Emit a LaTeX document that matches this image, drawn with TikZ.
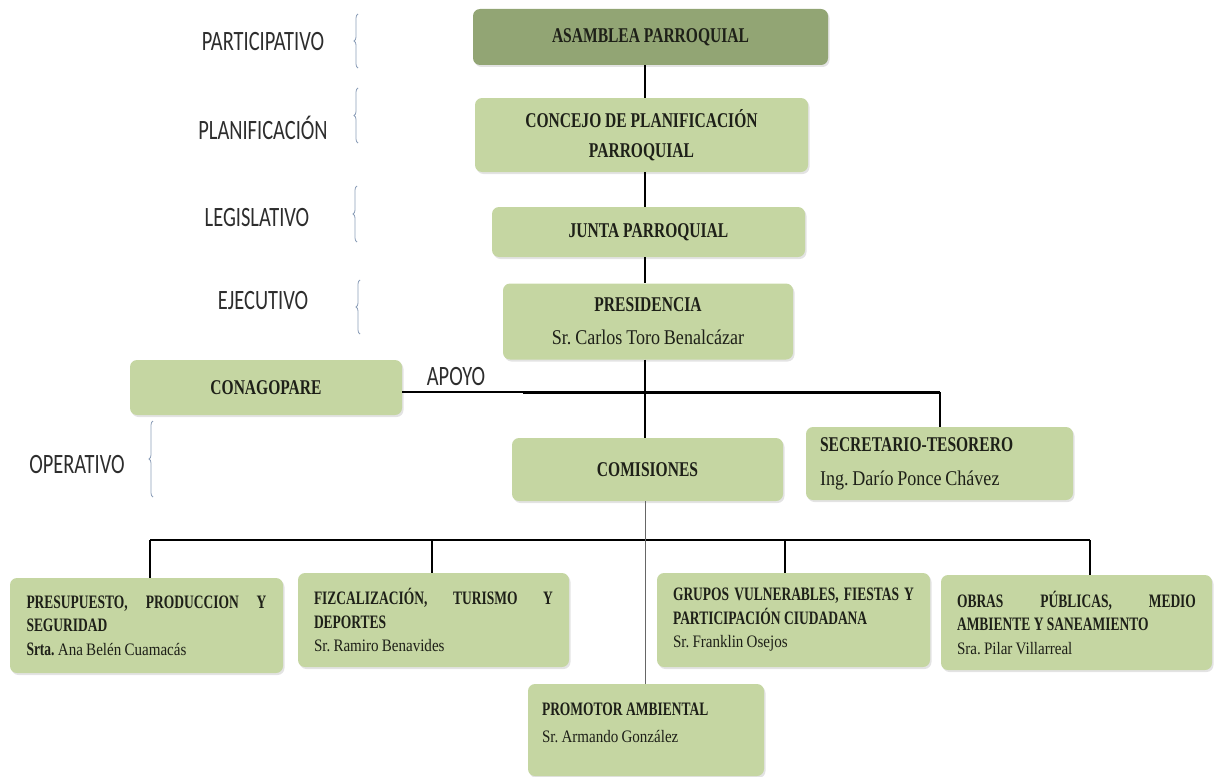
\documentclass[tikz,border=0pt]{standalone}
\usepackage{fontspec}
\setmainfont{Liberation Serif}
\newfontfamily\hbf{Liberation Serif}[FakeStretch=0.74]
\newfontfamily\hbs{Liberation Serif}[FakeStretch=0.71]
\newfontfamily\hrf{Liberation Serif}[FakeStretch=0.86, WordSpace=0.85]
\newfontfamily\lbf{Carlito}[FakeStretch=0.73]
\usetikzlibrary{decorations.pathreplacing,shadows}
\definecolor{boxg}{RGB}{197,214,162}
\definecolor{boxd}{RGB}{146,165,116}
\definecolor{brk}{RGB}{140,158,184}
\definecolor{txt}{RGB}{30,32,24}
\definecolor{lbl}{RGB}{45,45,45}
\newcommand{\nmx}[1]{{\hrf\mdseries #1}}
\newcommand{\nmb}[1]{{\hrf\mdseries\fontsize{17.5}{23.5}\selectfont #1}}
\newcommand{\nsk}{\spaceskip=0pt\xspaceskip=0pt\relax}
\frenchspacing
\begin{document}
\begin{tikzpicture}[x=1pt,y=-1pt,
  box/.style={fill=boxg, rounded corners=7pt, inner sep=0pt, text=txt,
     drop shadow={opacity=0.22, shadow xshift=1.5pt, shadow yshift=-2pt}},
  topbox/.style={box, align=center, font=\frenchspacing\hbf\bfseries\fontsize{21}{29}\selectfont},
  botbox/.style={box, align=left, font=\frenchspacing\hbs\bfseries\fontsize{19}{23.5}\selectfont},
  lev/.style={text=lbl, font=\lbf\fontsize{28}{30}\selectfont, inner sep=0pt},
  lbrace/.style={draw=brk, line width=0.8pt, decorate, decoration={brace, amplitude=4pt}},
  trunk/.style={line width=2.4pt},
  thinline/.style={line width=1.2pt},
  busline/.style={line width=1.8pt},
  hairline/.style={line width=0.8pt, draw=black!60}
]
\useasboundingbox (0,0) rectangle (1220,776);

% level labels
\node[lev] (lpart) at (263,42) {PARTICIPATIVO};
\node[lev] (lplan) at (263,128) {PLANIFICACIÓN};
\node[lev] (lleg)  at (257,218) {LEGISLATIVO};
\node[lev] (lejec) at (263,301) {EJECUTIVO};
\node[lev] (lop)   at (77,465) {OPERATIVO};
\node[lev] (apoyo) at (456,377) {APOYO};

\coordinate (b1a) at (358,68);  \coordinate (b1b) at (358,14);
\coordinate (b2a) at (358,143); \coordinate (b2b) at (358,88);
\coordinate (b3a) at (357,242); \coordinate (b3b) at (357,186);
\coordinate (b4a) at (360,334); \coordinate (b4b) at (360,280);
\coordinate (b5a) at (153,497); \coordinate (b5b) at (153,421);
\draw[lbrace] (b1a) -- (b1b);
\draw[lbrace] (b2a) -- (b2b);
\draw[lbrace] (b3a) -- (b3b);
\draw[lbrace] (b4a) -- (b4b);
\draw[lbrace] (b5a) -- (b5b);

% main boxes
\node[topbox, fill=boxd, minimum width=355pt, minimum height=56pt] (asamblea) at (650.5,37) {ASAMBLEA PARROQUIAL};
\node[topbox, minimum width=333pt, minimum height=74pt] (concejo) at (641.5,135) {CONCEJO DE PLANIFICACIÓN\\[1pt]PARROQUIAL};
\node[topbox, minimum width=313pt, minimum height=50pt] (junta) at (648.5,232) {JUNTA PARROQUIAL};
\node[topbox, minimum width=290pt, minimum height=76pt] (presid) at (648,321.5) {PRESIDENCIA\\[4pt]\nmx{Sr. Carlos Toro Benalcázar}};
\node[topbox, minimum width=272pt, minimum height=55pt] (conago) at (266,387.5) {CONAGOPARE};
\node[topbox, minimum width=271pt, minimum height=63pt] (comis) at (647.5,469.5) {COMISIONES};
\node[topbox, align=left, text width=239pt, minimum width=267pt, minimum height=73pt] (secre) at (939.5,463.5)
  {\nsk SECRETARIO-TESORERO\\[5pt]\nmx{Ing. Darío Ponce Chávez}};

% bottom boxes
\node[botbox, text width=240pt, minimum width=273pt, minimum height=95pt] (presu) at (146.5,625.5)
  {\nsk\makebox[\linewidth][s]{PRESUPUESTO, PRODUCCION Y}\\SEGURIDAD\\Srta. \nmb{Ana Belén Cuamacás}};
\node[botbox, text width=239pt, minimum width=271pt, minimum height=94pt] (fizca) at (433.5,620)
  {\nsk\makebox[\linewidth][s]{FIZCALIZACIÓN, TURISMO Y}\\DEPORTES\\\nmb{Sr. Ramiro Benavides}};
\node[botbox, text width=241pt, minimum width=273pt, minimum height=94pt] (grupos) at (793.5,620)
  {\nsk\makebox[\linewidth][s]{GRUPOS VULNERABLES, FIESTAS Y}\\PARTICIPACIÓN CIUDADANA\\\nmb{Sr. Franklin Osejos}};
\node[botbox, text width=239pt, minimum width=271pt, minimum height=95pt] (obras) at (1076.5,622.5)
  {\nsk\makebox[\linewidth][s]{OBRAS PÚBLICAS, MEDIO}\\AMBIENTE Y SANEAMIENTO\\\nmb{Sra. Pilar Villarreal}};
\node[botbox, minimum width=236pt, minimum height=92pt] (promo) at (646,730)
  {\parbox[c][92pt][t]{208pt}{\nsk\vspace{19pt}PROMOTOR AMBIENTAL\\[3pt]\nmb{Sr. Armando González}}};

% connectors
\coordinate (tx) at (645,0);
\coordinate (j1) at (645,392);
\coordinate (jt) at (523,392);
\coordinate (js) at (940,392);
\coordinate (bl) at (150,540);
\coordinate (br) at (1090,540);
\coordinate (bf) at (432,540);
\coordinate (bg) at (785,540);

\draw[trunk] (asamblea.south -| tx) -- (concejo.north -| tx);
\draw[trunk] (concejo.south -| tx) -- (junta.north -| tx);
\draw[trunk] (junta.south -| tx) -- (presid.north -| tx);
\draw[trunk] (presid.south -| tx) -- (j1);
\draw[thinline] (conago.east |- j1) -- (jt);
\draw[line width=3pt] (jt) -- (js);
\draw[trunk] (j1) -- (comis.north -| tx);
\draw[trunk] (js) -- (secre.north -| js);

\draw[busline] (bl) -- (br);
\draw[busline] (bl) -- (presu.north -| bl);
\draw[busline] (bf) -- (fizca.north -| bf);
\draw[busline] (bg) -- (grupos.north -| bg);
\draw[busline] (br) -- (obras.north -| br);
\draw[hairline] (comis.south -| tx) -- (promo.north -| tx);
\end{tikzpicture}
\end{document}
